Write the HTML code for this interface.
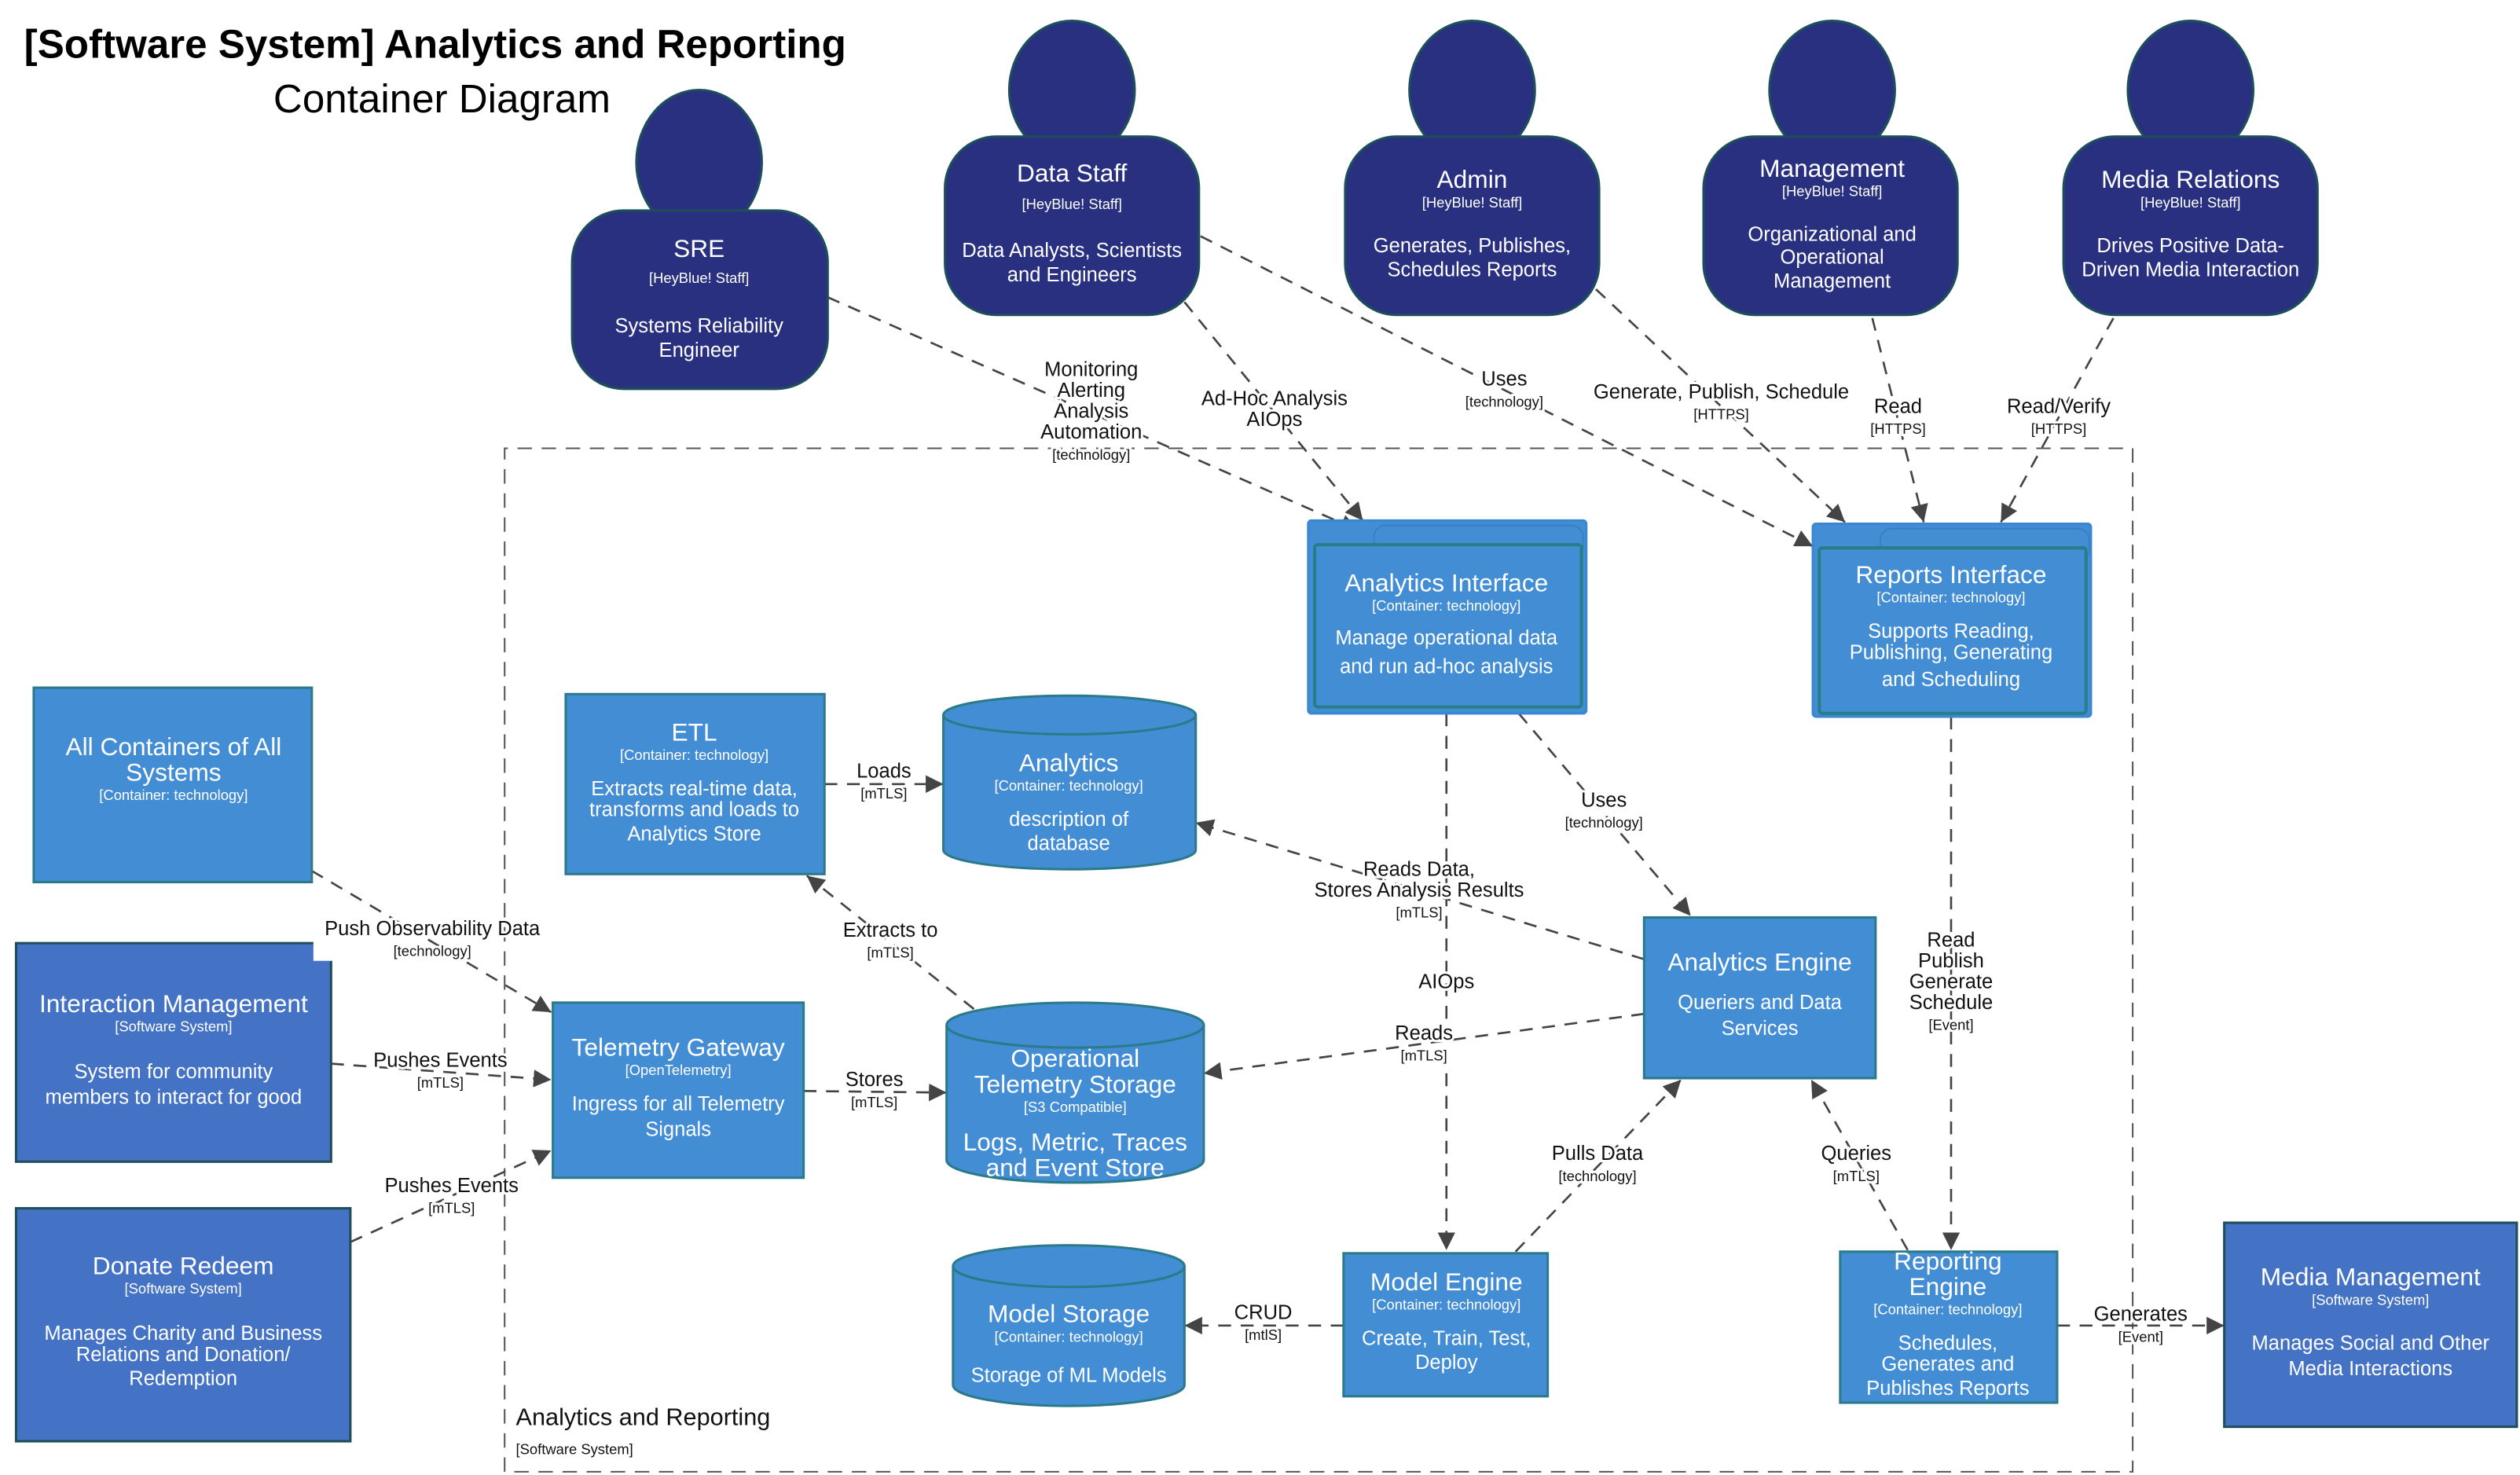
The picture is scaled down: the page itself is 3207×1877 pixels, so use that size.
<!DOCTYPE html>
<html><head><meta charset="utf-8">
<style>
html,body{margin:0;padding:0;background:#fff;}
svg{display:block;}
text{font-family:"Liberation Sans Narrow","Liberation Sans",sans-serif;}
.w{fill:#fff;text-anchor:middle;}
.t{font-size:15.5px;}
.s{font-size:9px;}
.d{font-size:12.5px;}
.l{fill:#111;text-anchor:middle;font-size:12.5px;paint-order:stroke;stroke:#fff;stroke-width:3px;}
.lt{fill:#111;text-anchor:middle;font-size:9px;paint-order:stroke;stroke:#fff;stroke-width:3px;}
.e{fill:none;stroke:#444;stroke-width:1.3;stroke-dasharray:8,6;}
.p{fill:#28307f;stroke:#1d4f5a;stroke-width:1.5;}
.c{fill:#438dd5;stroke:#2a7a8a;stroke-width:1.5;}
.ss{fill:#4472c4;stroke:#1f4d5a;stroke-width:1.5;}
</style></head><body>
<svg width="3207" height="1877" viewBox="0 0 1568 918" preserveAspectRatio="none" xmlns="http://www.w3.org/2000/svg">
<defs>
<marker id="a" viewBox="0 0 10 10" refX="10" refY="5" markerWidth="11" markerHeight="11" markerUnits="userSpaceOnUse" orient="auto">
<path d="M0,0 L10,5 L0,10 z" fill="#444"/></marker>
</defs>
<rect width="1568" height="918" fill="#fff"/>
<text x="15" y="36" style="font-family:'Liberation Sans',sans-serif;font-weight:bold;font-size:25px" fill="#000">[Software System] Analytics and Reporting</text>
<text x="275" y="70" text-anchor="middle" style="font-family:'Liberation Sans',sans-serif;font-size:25px" fill="#000">Container Diagram</text>

<!-- boundary -->
<path d="M314,916 L314,279 L1327,279 L1327,916 L314,916" fill="none" stroke="#555" stroke-width="1" stroke-dasharray="9,6"/>
<text x="321" y="887" font-size="15" fill="#111">Analytics and Reporting</text>
<text x="321" y="905" font-size="9" fill="#111">[Software System]</text>

<!-- persons -->
<g>
<ellipse class="p" cx="435" cy="101" rx="39" ry="45"/><rect class="p" x="356" y="131" width="159" height="111" rx="32"/>
<text class="w t" x="435" y="160">SRE</text><text class="w s" x="435" y="176">[HeyBlue! Staff]</text>
<text class="w d" x="435" y="207">Systems Reliability</text><text class="w d" x="435" y="222">Engineer</text>

<ellipse class="p" cx="667" cy="56" rx="39" ry="43"/><rect class="p" x="588" y="85" width="158" height="111" rx="32"/>
<text class="w t" x="667" y="113">Data Staff</text><text class="w s" x="667" y="130">[HeyBlue! Staff]</text>
<text class="w d" x="667" y="160">Data Analysts, Scientists</text><text class="w d" x="667" y="175">and Engineers</text>

<ellipse class="p" cx="916" cy="56" rx="39" ry="43"/><rect class="p" x="837" y="85" width="158" height="111" rx="32"/>
<text class="w t" x="916" y="117">Admin</text><text class="w s" x="916" y="129">[HeyBlue! Staff]</text>
<text class="w d" x="916" y="157">Generates, Publishes,</text><text class="w d" x="916" y="172">Schedules Reports</text>

<ellipse class="p" cx="1140" cy="56" rx="39" ry="43"/><rect class="p" x="1060" y="85" width="158" height="111" rx="32"/>
<text class="w t" x="1140" y="110">Management</text><text class="w s" x="1140" y="122">[HeyBlue! Staff]</text>
<text class="w d" x="1140" y="150">Organizational and</text><text class="w d" x="1140" y="164">Operational</text><text class="w d" x="1140" y="179">Management</text>

<ellipse class="p" cx="1363" cy="56" rx="39" ry="43"/><rect class="p" x="1284" y="85" width="158" height="111" rx="32"/>
<text class="w t" x="1363" y="117">Media Relations</text><text class="w s" x="1363" y="129">[HeyBlue! Staff]</text>
<text class="w d" x="1363" y="157">Drives Positive Data-</text><text class="w d" x="1363" y="172">Driven Media Interaction</text>
</g>

<!-- edges -->
<g class="e">
<path d="M515,185 L845,330" marker-end="url(#a)"/>
<path d="M737,188 L848,324" marker-end="url(#a)"/>
<path d="M747,147 L1128,340" marker-end="url(#a)"/>
<path d="M993,180 L1148,325" marker-end="url(#a)"/>
<path d="M1165,198 L1197,325" marker-end="url(#a)"/>
<path d="M1315,198 L1245,325" marker-end="url(#a)"/>
<path d="M945,444 L1052,570" marker-end="url(#a)"/>
<path d="M900,444 L900,778" marker-end="url(#a)"/>
<path d="M1214,446 L1214,778" marker-end="url(#a)"/>
<path d="M513,488 L587,488" marker-end="url(#a)"/>
<path d="M1023,597 L744,512" marker-end="url(#a)"/>
<path d="M606,628 L502,545" marker-end="url(#a)"/>
<path d="M194,542 L343,630" marker-end="url(#a)"/>
<path d="M206,662 L343,672" marker-end="url(#a)"/>
<path d="M218,773 L343,716" marker-end="url(#a)"/>
<path d="M500,679 L589,680" marker-end="url(#a)"/>
<path d="M1023,631 L749,668" marker-end="url(#a)"/>
<path d="M943,779 L1046,672" marker-end="url(#a)"/>
<path d="M1187,778 L1127,672" marker-end="url(#a)"/>
<path d="M836,825 L737,825" marker-end="url(#a)"/>
<path d="M1280,825 L1384,825" marker-end="url(#a)"/>
</g>

<!-- edge labels -->
<text class="l" x="679" y="234">Monitoring</text><text class="l" x="679" y="247">Alerting</text><text class="l" x="679" y="260">Analysis</text><text class="l" x="679" y="273">Automation</text><text class="lt" x="679" y="286">[technology]</text>
<text class="l" x="793" y="252">Ad-Hoc Analysis</text><text class="l" x="793" y="265">AIOps</text>
<text class="l" x="936" y="240">Uses</text><text class="lt" x="936" y="253">[technology]</text>
<text class="l" x="1071" y="248">Generate, Publish, Schedule</text><text class="lt" x="1071" y="261">[HTTPS]</text>
<text class="l" x="1181" y="257">Read</text><text class="lt" x="1181" y="270">[HTTPS]</text>
<text class="l" x="1281" y="257">Read/Verify</text><text class="lt" x="1281" y="270">[HTTPS]</text>
<text class="l" x="998" y="502">Uses</text><text class="lt" x="998" y="515">[technology]</text>
<text class="l" x="900" y="615">AIOps</text>
<text class="l" x="1214" y="589">Read</text><text class="l" x="1214" y="602">Publish</text><text class="l" x="1214" y="615">Generate</text><text class="l" x="1214" y="628">Schedule</text><text class="lt" x="1214" y="641">[Event]</text>
<text class="l" x="550" y="484">Loads</text><text class="lt" x="550" y="497">[mTLS]</text>
<text class="l" x="883" y="545">Reads Data,</text><text class="l" x="883" y="558">Stores Analysis Results</text><text class="lt" x="883" y="571">[mTLS]</text>
<text class="l" x="554" y="583">Extracts to</text><text class="lt" x="554" y="596">[mTLS]</text>
<text class="l" x="269" y="582">Push Observability Data</text><text class="lt" x="269" y="595">[technology]</text>
<text class="l" x="274" y="664">Pushes Events</text><text class="lt" x="274" y="677">[mTLS]</text>
<text class="l" x="281" y="742">Pushes Events</text><text class="lt" x="281" y="755">[mTLS]</text>
<text class="l" x="544" y="676">Stores</text><text class="lt" x="544" y="689">[mTLS]</text>
<text class="l" x="886" y="647">Reads</text><text class="lt" x="886" y="660">[mTLS]</text>
<text class="l" x="994" y="722">Pulls Data</text><text class="lt" x="994" y="735">[technology]</text>
<text class="l" x="1155" y="722">Queries</text><text class="lt" x="1155" y="735">[mTLS]</text>
<text class="l" x="786" y="821">CRUD</text><text class="lt" x="786" y="834">[mtlS]</text>
<text class="l" x="1332" y="822">Generates</text><text class="lt" x="1332" y="835">[Event]</text>

<!-- Analytics Interface -->
<rect class="c" x="814" y="324" width="173" height="120" rx="2" style="stroke:#3a86d0"/>
<rect x="855" y="327" width="130" height="20" rx="7" fill="#438dd5" stroke="#3a7fc0" stroke-width="1"/>
<rect x="818" y="339" width="166" height="101" rx="2" fill="#438dd5" stroke="#267f86" stroke-width="2"/>
<text class="w t" x="900" y="368">Analytics Interface</text><text class="w s" x="900" y="380">[Container: technology]</text>
<text class="w d" x="900" y="401">Manage operational data</text><text class="w d" x="900" y="419">and run ad-hoc analysis</text>

<!-- Reports Interface -->
<rect class="c" x="1128" y="326" width="173" height="120" rx="2" style="stroke:#3a86d0"/>
<rect x="1170" y="329" width="130" height="20" rx="7" fill="#438dd5" stroke="#3a7fc0" stroke-width="1"/>
<rect x="1132" y="341" width="166" height="103" rx="2" fill="#438dd5" stroke="#267f86" stroke-width="2"/>
<text class="w t" x="1214" y="363">Reports Interface</text><text class="w s" x="1214" y="375">[Container: technology]</text>
<text class="w d" x="1214" y="397">Supports Reading,</text><text class="w d" x="1214" y="410">Publishing, Generating</text><text class="w d" x="1214" y="427">and Scheduling</text>

<!-- ETL -->
<rect class="c" x="352" y="432" width="161" height="112"/>
<text class="w t" x="432" y="461">ETL</text><text class="w s" x="432" y="473">[Container: technology]</text>
<text class="w d" x="432" y="495">Extracts real-time data,</text><text class="w d" x="432" y="508">transforms and loads to</text><text class="w d" x="432" y="523">Analytics Store</text>

<!-- Analytics DB -->
<path class="c" d="M587,445 A78.5,12 0 0 1 744,445 L744,529 A78.5,12 0 0 1 587,529 Z"/>
<path d="M587,445 A78.5,12 0 0 0 744,445" fill="none" stroke="#2a7a8a" stroke-width="1.5"/>
<text class="w t" x="665" y="480">Analytics</text><text class="w s" x="665" y="492">[Container: technology]</text>
<text class="w d" x="665" y="514">description of</text><text class="w d" x="665" y="529">database</text>

<!-- All Containers -->
<rect class="c" x="21" y="428" width="173" height="121"/>
<text class="w t" x="108" y="470">All Containers of All</text><text class="w t" x="108" y="486">Systems</text><text class="w s" x="108" y="498">[Container: technology]</text>

<!-- Interaction Management -->
<rect class="ss" x="10" y="587" width="196" height="136"/>
<rect x="195" y="585" width="12" height="13" fill="#fff"/>
<text class="w t" x="108" y="630">Interaction Management</text><text class="w s" x="108" y="642">[Software System]</text>
<text class="w d" x="108" y="671">System for community</text><text class="w d" x="108" y="687">members to interact for good</text>

<!-- Donate Redeem -->
<rect class="ss" x="10" y="752" width="208" height="145"/>
<text class="w t" x="114" y="793">Donate Redeem</text><text class="w s" x="114" y="805">[Software System]</text>
<text class="w d" x="114" y="834">Manages Charity and Business</text><text class="w d" x="114" y="847">Relations and Donation/</text><text class="w d" x="114" y="862">Redemption</text>

<!-- Telemetry Gateway -->
<rect class="c" x="344" y="624" width="156" height="109"/>
<text class="w t" x="422" y="657">Telemetry Gateway</text><text class="w s" x="422" y="669">[OpenTelemetry]</text>
<text class="w d" x="422" y="691">Ingress for all Telemetry</text><text class="w d" x="422" y="707">Signals</text>

<!-- Op Telemetry Storage -->
<path class="c" d="M589,638 A80,14 0 0 1 749,638 L749,722 A80,14 0 0 1 589,722 Z"/>
<path d="M589,638 A80,14 0 0 0 749,638" fill="none" stroke="#2a7a8a" stroke-width="1.5"/>
<text class="w t" x="669" y="664">Operational</text><text class="w t" x="669" y="680">Telemetry Storage</text><text class="w s" x="669" y="692">[S3 Compatible]</text>
<text class="w t" x="669" y="716">Logs, Metric, Traces</text><text class="w t" x="669" y="732">and Event Store</text>

<!-- Analytics Engine -->
<rect class="c" x="1023" y="571" width="144" height="100"/>
<text class="w t" x="1095" y="604">Analytics Engine</text>
<text class="w d" x="1095" y="628">Queriers and Data</text><text class="w d" x="1095" y="644">Services</text>

<!-- Model Storage -->
<path class="c" d="M593,788 A72,13 0 0 1 737,788 L737,862 A72,13 0 0 1 593,862 Z"/>
<path d="M593,788 A72,13 0 0 0 737,788" fill="none" stroke="#2a7a8a" stroke-width="1.5"/>
<text class="w t" x="665" y="823">Model Storage</text><text class="w s" x="665" y="835">[Container: technology]</text>
<text class="w d" x="665" y="860">Storage of ML Models</text>

<!-- Model Engine -->
<rect class="c" x="836" y="780" width="127" height="89"/>
<text class="w t" x="900" y="803">Model Engine</text><text class="w s" x="900" y="815">[Container: technology]</text>
<text class="w d" x="900" y="837">Create, Train, Test,</text><text class="w d" x="900" y="852">Deploy</text>

<!-- Reporting Engine -->
<rect class="c" x="1145" y="779" width="135" height="94"/>
<text class="w t" x="1212" y="790">Reporting</text><text class="w t" x="1212" y="806">Engine</text><text class="w s" x="1212" y="818">[Container: technology]</text>
<text class="w d" x="1212" y="840">Schedules,</text><text class="w d" x="1212" y="853">Generates and</text><text class="w d" x="1212" y="868">Publishes Reports</text>

<!-- Media Management -->
<rect class="ss" x="1384" y="761" width="182" height="127"/>
<text class="w t" x="1475" y="800">Media Management</text><text class="w s" x="1475" y="812">[Software System]</text>
<text class="w d" x="1475" y="840">Manages Social and Other</text><text class="w d" x="1475" y="856">Media Interactions</text>
</svg>
</body></html>
